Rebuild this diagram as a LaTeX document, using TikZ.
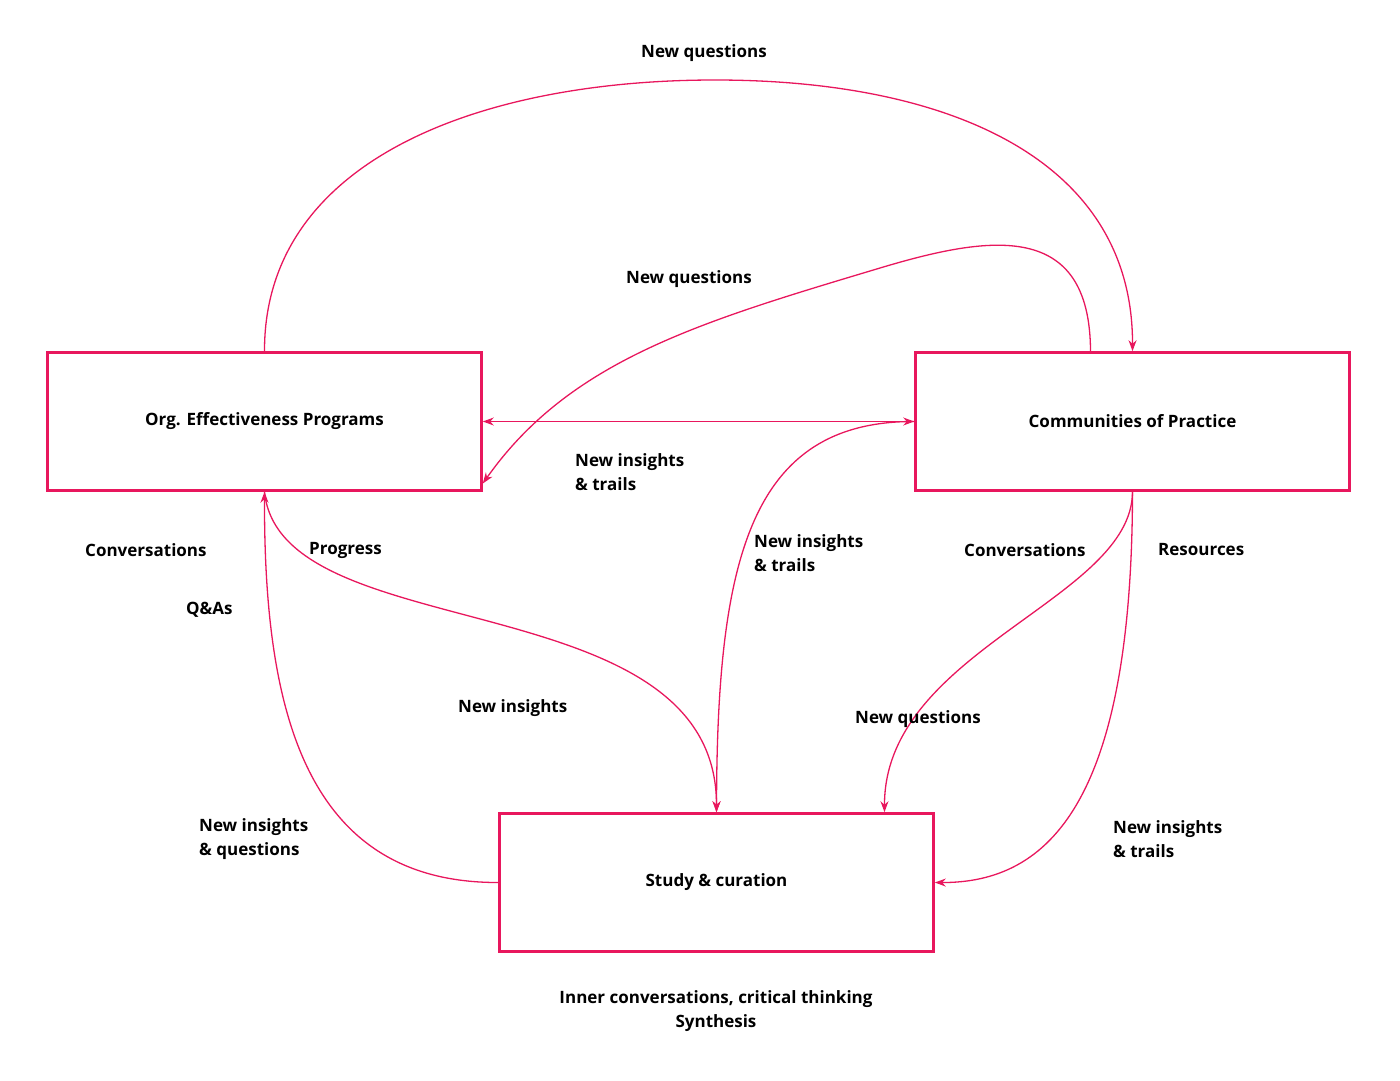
\documentclass[tikz,border=0pt]{standalone}
\usepackage{fontspec}
\setmainfont{Open Sans}[BoldFont={* Bold}]
\usetikzlibrary{arrows.meta}
\definecolor{pk}{HTML}{E8175D}
\begin{document}
\begin{tikzpicture}[x=1pt,y=-1pt,
 box/.style={draw=pk,line width=2.6pt,minimum width=434pt,minimum height=138pt,inner sep=0,font=\fontsize{17}{20}\selectfont\bfseries},
 lab/.style={font=\fontsize{17}{24}\selectfont\bfseries,align=left,inner sep=0},
 ar/.style={draw=pk,line width=1.3pt,-{Stealth[length=11pt,width=8pt]}}]
\useasboundingbox (0,0) rectangle (1400,1081);
\node[box] (org) at (264.5,421.5) {Org. Effectiveness Programs};
\node[box] (cop) at (1132.5,421.5) {Communities of Practice};
\node[box] (st) at (716.5,882.5) {Study \& curation};
\coordinate (peak) at (715,80);
\coordinate (mid) at (880,268);
\draw[ar] (org.north) .. controls (264,160) and (480,80) .. (peak) .. controls (950,80) and (1133,160) .. (cop.north);
\draw[ar] ([xshift=-42pt]cop.north) .. controls (1090,220) and (990,235) .. (mid) .. controls (700,322) and (570,360) .. ([yshift=-62pt]org.east);
\draw[ar,{Stealth[length=11pt,width=8pt]}-{Stealth[length=11pt,width=8pt]}] (org.east) -- (cop.west);
\draw[ar] (cop.west) .. controls (750,421) and (717,560) .. (st.north);
\draw[ar] (org.south) .. controls (280,650) and (717,580) .. (st.north);
\draw[ar] (st.west) .. controls (300,883) and (264,700) .. (org.south);
\draw[ar] (cop.south) .. controls (1132,600) and (884,650) .. ([xshift=168pt]st.north);
\draw[ar] (cop.south) .. controls (1132,800) and (1050,883) .. (st.east);
\node[lab,anchor=west] (l1) at (641,53) {New questions};
\node[lab,anchor=west] (l2) at (626,279) {New questions};
\node[lab,anchor=west] (l3) at (575,472) {New insights\\\& trails};
\node[lab,anchor=west] (l4) at (754,553) {New insights\\\& trails};
\node[lab,anchor=west] (l5) at (85,550) {Conversations};
\node[lab,anchor=west] (l6) at (309,550) {Progress};
\node[lab,anchor=west] (l7) at (186,610) {Q\&As};
\node[lab,anchor=west] (l8) at (458,708) {New insights};
\node[lab,anchor=west] (l9) at (199,839) {New insights\\\& questions};
\node[lab,anchor=west] (l10) at (964,550) {Conversations};
\node[lab,anchor=west] (l11) at (1158,550) {Resources};
\node[lab,anchor=west] (l12) at (855,719) {New questions};
\node[lab,anchor=west] (l13) at (1113,839) {New insights\\\& trails};
\node[lab,align=center] (l14) at (716,1011) {Inner conversations, critical thinking\\Synthesis};
\end{tikzpicture}
\end{document}
